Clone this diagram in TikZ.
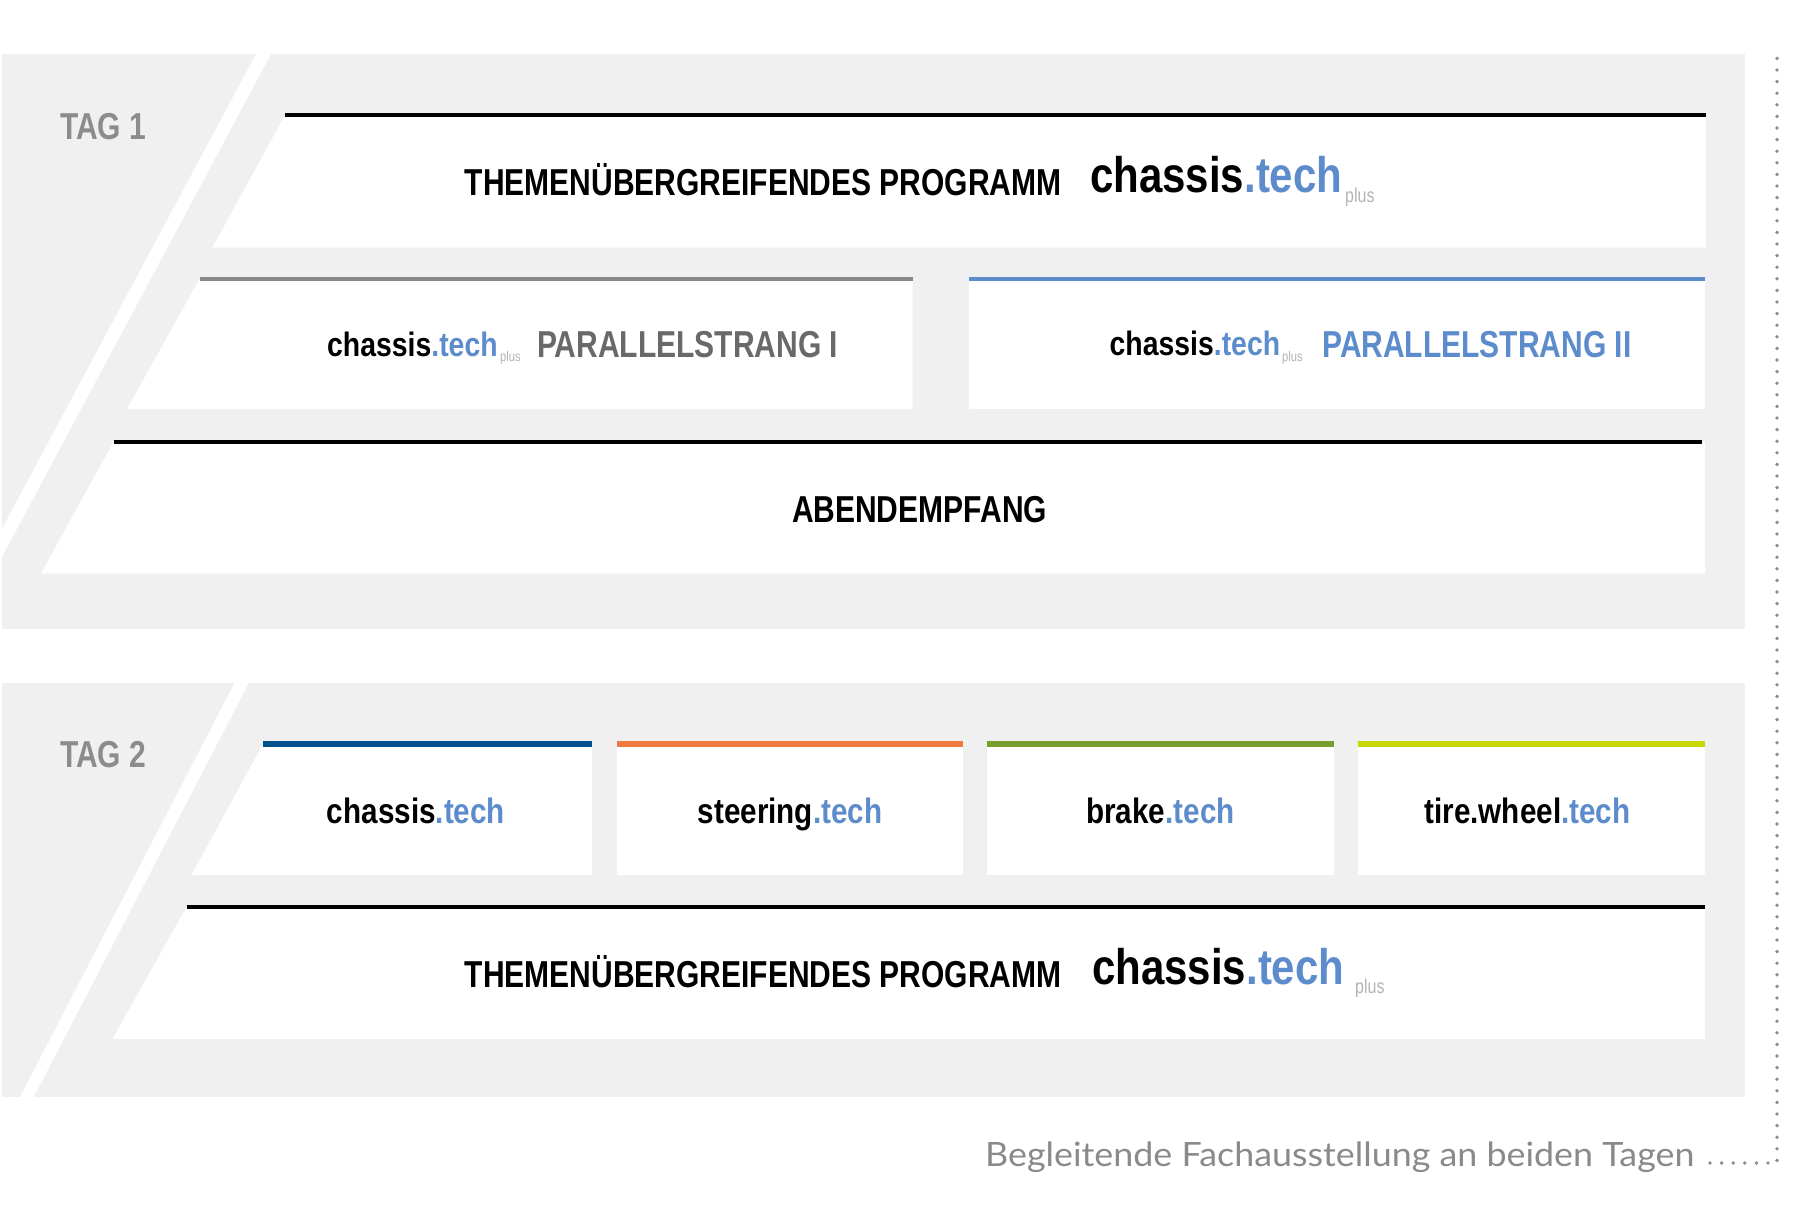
\documentclass[tikz,border=0pt]{standalone}
\usepackage{fontspec}
\setmainfont{Liberation Sans}
\newfontfamily\condfont[FakeStretch=0.8]{Liberation Sans}
\newfontfamily\logofont[FakeStretch=0.84]{Liberation Sans}
\newfontfamily\lightfont[FakeStretch=1.07]{Lato}
\definecolor{panelgray}{RGB}{240,240,240}
\definecolor{techblue}{RGB}{92,140,204}
\definecolor{darkblue}{RGB}{0,80,140}
\definecolor{orangeline}{RGB}{238,122,59}
\definecolor{greenline}{RGB}{122,158,44}
\definecolor{limeline}{RGB}{201,214,0}
\definecolor{taggray}{RGB}{140,140,140}
\definecolor{capgray}{RGB}{105,105,105}
\definecolor{linegray}{RGB}{136,136,136}
\definecolor{plusgray}{RGB}{180,180,180}
\definecolor{lightgray}{RGB}{138,138,138}
\definecolor{dotgray}{RGB}{140,140,140}
\newcommand\tech[1]{#1\textcolor{techblue}{.tech}}
\tikzset{
  panel/.style={fill=panelgray},
  card/.style={fill=white},
  blackline/.style={line width=4pt, draw=black},
  colline/.style={line width=5.5pt},
  caps/.style={font={\condfont\bfseries\fontsize{37.5}{40}\selectfont}, inner sep=0pt, anchor=base west},
  tagtext/.style={caps, text=taggray},
  logobig/.style={font={\logofont\bfseries\fontsize{50}{52}\selectfont}, inner sep=0pt, anchor=base west},
  logomid/.style={font={\logofont\bfseries\fontsize{35.3}{38}\selectfont}, inner sep=0pt, anchor=base},
  logosmall/.style={font={\logofont\bfseries\fontsize{33.8}{36}\selectfont}, inner sep=0pt, anchor=base west},
  plusbig/.style={font={\condfont\fontsize{20}{22}\selectfont}, text=plusgray, inner sep=0pt, anchor=base west},
  plussmall/.style={font={\condfont\fontsize{14}{16}\selectfont}, text=plusgray, inner sep=0pt, anchor=base west},
  lighttext/.style={font={\lightfont\fontsize{33.5}{36}\selectfont}, text=lightgray, inner sep=0pt, anchor=base west},
  dotline/.style={draw=dotgray, line width=3.8pt, line cap=round, dash pattern=on 0pt off 11.6pt}
}
\begin{document}
\begin{tikzpicture}[x=1pt,y=-1pt]
\useasboundingbox (0,0) rectangle (1800,1220);
\fill[white] (0,0) rectangle (1800,1220);

% ---------- TAG 1 panel ----------
\fill[panel] (2,54) rectangle (1745,629);
\begin{scope}
  \clip (2,54) rectangle (1745,629);
  \fill[white] (256,54) -- (271,54) -- (-36.6,629) -- (-51.6,629) -- cycle;
\end{scope}
\node[tagtext] (tag1) at (60,139.5) {TAG 1};

% box A
\fill[card] (285,115) -- (1706,115) -- (1706,247.5) -- (212.5,247.5) -- cycle;
\draw[blackline] (285,115) -- (1706,115);
\node[caps] (ta) at (464.5,195.5) {THEMENÜBERGREIFENDES PROGRAMM};
\node[logobig] (la) at (1090,193) {\tech{chassis}};
\node[plusbig] (pa) at (1345,202) {plus};

% box B
\fill[card] (199.5,279) -- (912.5,279) -- (912.5,409) -- (127,409) -- cycle;
\draw[line width=4pt, linegray] (199.5,279) -- (912.5,279);
\node[logosmall] (lb) at (327,356) {\tech{chassis}};
\node[plussmall] (pb) at (500,361) {plus};
\node[caps, text=capgray] (tb) at (537,357.6) {PARALLELSTRANG I};

% box C
\fill[card] (969,279) rectangle (1705,409);
\draw[line width=4pt, techblue] (969,279) -- (1705,279);
\node[logosmall] (lc) at (1109.5,355.5) {\tech{chassis}};
\node[plussmall] (pc) at (1282,361) {plus};
\node[caps, text=techblue] (tc) at (1322,357.7) {PARALLELSTRANG II};

% box D
\fill[card] (113.5,442) -- (1705,442) -- (1705,573.5) -- (41,573.5) -- cycle;
\draw[blackline] (113.5,442) -- (1702,442);
\node[caps, anchor=base] (td) at (919.5,522) {ABENDEMPFANG};

% ---------- TAG 2 panel ----------
\fill[panel] (2,683) rectangle (1745,1097);
\begin{scope}
  \clip (2,683) rectangle (1745,1097);
  \fill[white] (234.6,683) -- (248.8,683) -- (33.7,1097) -- (20,1097) -- cycle;
\end{scope}
\node[tagtext] (tag2) at (60,767.3) {TAG 2};

\fill[card] (263,744) -- (592,744) -- (592,875) -- (191.5,875) -- cycle;
\draw[colline, darkblue] (263,744) -- (592,744);
\fill[card] (616.5,744) rectangle (963,875);
\draw[colline, orangeline] (616.5,744) -- (963,744);
\fill[card] (987,744) rectangle (1334,875);
\draw[colline, greenline] (987,744) -- (1334,744);
\fill[card] (1358,744) rectangle (1705,875);
\draw[colline, limeline] (1358,744) -- (1705,744);

\node[logomid] (l1) at (416,823) {\tech{chassis}};
\node[logomid] (l2) at (790,823) {\tech{steering}};
\node[logomid] (l3) at (1160.5,823) {\tech{brake}};
\node[logomid] (l4) at (1527.5,823) {\tech{tire.wheel}};

\fill[card] (186.5,907) -- (1705,907) -- (1705,1039) -- (112.5,1039) -- cycle;
\draw[blackline] (186.5,907) -- (1705,907);
\node[caps] (te) at (464.5,987) {THEMENÜBERGREIFENDES PROGRAMM};
\node[logobig] (le) at (1092,984.5) {\tech{chassis}};
\node[plusbig] (pe) at (1355,993.5) {plus};

% ---------- footer ----------
\node[lighttext] (beg) at (985,1166) {Begleitende Fachausstellung an beiden Tagen};
\coordinate (dstart) at (1710,1163);
\coordinate (corner) at (1777,1163);
\coordinate (dtop) at (1777,52);
\draw[dotline] (dstart) -- (corner) -- (dtop);
\end{tikzpicture}
\end{document}
